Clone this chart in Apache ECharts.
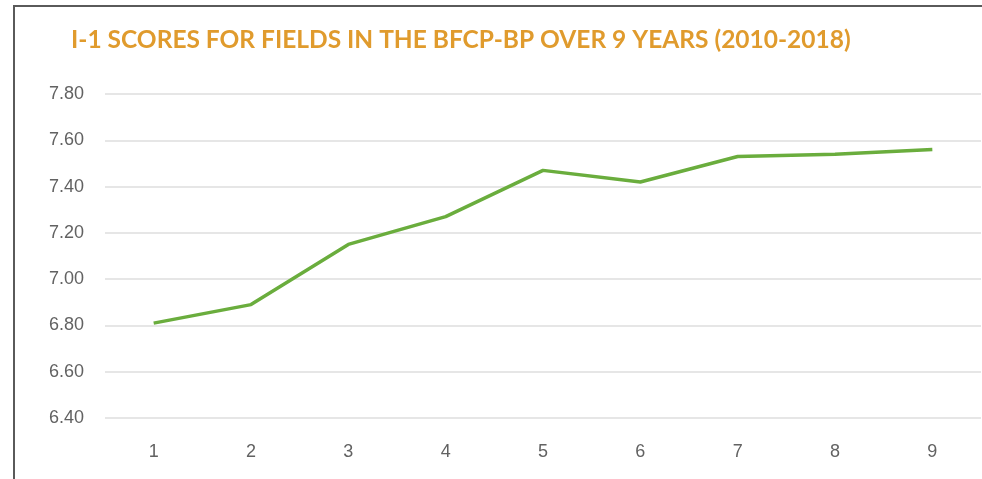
<!DOCTYPE html>
<html>
<head>
<meta charset="utf-8">
<script src="https://cdn.jsdelivr.net/npm/echarts@6/dist/echarts.min.js"></script>
<style>
  html, body { margin: 0; padding: 0; background: #fff; }
  #frame { position: absolute; left: 13px; top: 5px; width: 969px; height: 474px;
           border-left: 2px solid #5a5a5a; border-top: 2px solid #5a5a5a; }
  #main { position: absolute; left: 0; top: 0; width: 982px; height: 479px; }
</style>
</head>
<body>
<div id="frame"></div>
<div id="main"></div>
<script>
var dom = document.getElementById("main");
var myChart = echarts.init(dom);

// chart data
var titleText = 'I-1 SCORES FOR FIELDS IN THE BFCP-BP OVER 9 YEARS (2010-2018)';
var years = ['1', '2', '3', '4', '5', '6', '7', '8', '9'];
var scores = [6.81, 6.89, 7.15, 7.27, 7.47, 7.42, 7.53, 7.54, 7.56];
var yTicks = [6.4, 6.6, 6.8, 7.0, 7.2, 7.4, 7.6, 7.8];

var option = {
    backgroundColor: 'transparent',
    title: {
        text: titleText,
        left: 66,
        top: 23,
        textStyle: {
            color: '#e09b2d',
            fontFamily: 'Lato',
            fontWeight: 'bold',
            fontSize: 24.5
        }
    },
    grid: {
        left: 105,
        right: 1,
        top: 94,
        bottom: 61
    },
    xAxis: {
        type: 'category',
        data: years,
        boundaryGap: true,
        axisLine: { show: false },
        axisTick: { show: false },
        axisLabel: {
            color: '#626262',
            fontFamily: 'Liberation Sans',
            fontSize: 18,
            margin: 25
        }
    },
    yAxis: {
        type: 'value',
        min: yTicks[0],
        max: yTicks[yTicks.length - 1],
        interval: 0.2,
        axisLine: { show: false },
        axisTick: { show: false },
        axisLabel: {
            color: '#626262',
            fontFamily: 'Liberation Sans',
            fontSize: 18,
            margin: 21,
            formatter: function (v) { return v.toFixed(2); }
        },
        splitLine: { lineStyle: { color: '#e6e6e6', width: 2 } }
    },
    series: [{
        type: 'line',
        data: scores,
        symbol: 'none',
        lineStyle: { color: '#6aad3d', width: 3.5 },
        animation: false
    }]
};
myChart.setOption(option);
window.addEventListener("resize", function () {
    myChart.resize();
});
</script>
</body>
</html>
